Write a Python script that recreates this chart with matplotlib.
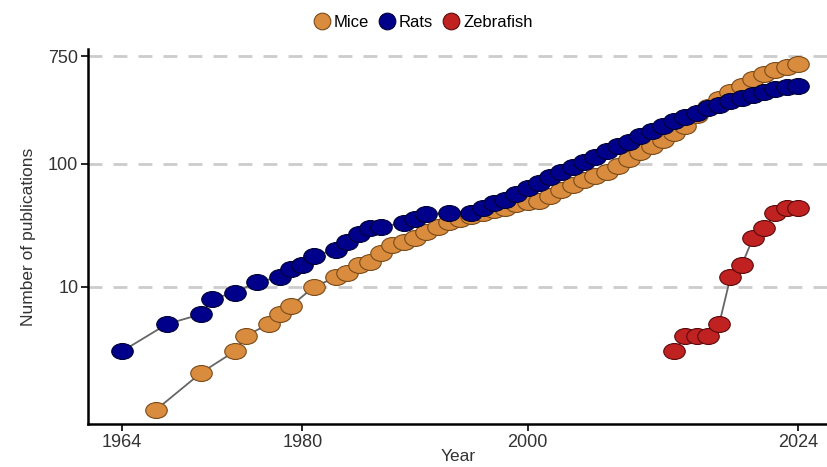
import numpy as np
import matplotlib
matplotlib.use("Agg")
import matplotlib.pyplot as plt
from matplotlib.path import Path
from matplotlib.lines import Line2D

plt.rcParams['font.family'] = ['Liberation Sans', 'DejaVu Sans']

# data
mice_years = [1967, 1971, 1974, 1975, 1977, 1978, 1979, 1981, 1983, 1984,
              1985, 1986, 1987, 1988, 1989, 1990, 1991, 1992, 1993, 1994,
              1995, 1996, 1997, 1998, 1999, 2000, 2001, 2002, 2003, 2004,
              2005, 2006, 2007, 2008, 2009, 2010, 2011, 2012, 2013, 2014,
              2015, 2016, 2017, 2018, 2019, 2020, 2021, 2022, 2023, 2024]
mice_pubs = [1, 2, 3, 4, 5, 6, 7, 10, 12, 13,
             15, 16, 19, 22, 23, 25, 28, 31, 34, 36,
             38, 40, 42, 44, 47, 49, 50, 55, 61, 67,
             74, 80, 86, 96, 110, 125, 140, 158, 178, 205,
             250, 290, 335, 383, 428, 489, 536, 578, 620, 645]

rats_years = [1964, 1968, 1971, 1972, 1974, 1976, 1978, 1979, 1980, 1981,
              1983, 1984, 1985, 1986, 1987, 1989, 1990, 1991, 1993, 1995,
              1996, 1997, 1998, 1999, 2000, 2001, 2002, 2003, 2004, 2005,
              2006, 2007, 2008, 2009, 2010, 2011, 2012, 2013, 2014, 2015,
              2016, 2017, 2018, 2019, 2020, 2021, 2022, 2023, 2024]
rats_pubs = [3, 5, 6, 8, 9, 11, 12, 14, 15, 18,
             20, 23, 27, 30, 31, 33, 36, 39, 40, 40,
             44, 48, 51, 57, 64, 70, 78, 86, 95, 104,
             115, 127, 140, 152, 168, 185, 205, 225, 240, 262,
             283, 303, 325, 345, 365, 385, 405, 420, 428]

zebra_years = [2013, 2014, 2015, 2016, 2017, 2018, 2019, 2020, 2021, 2022, 2023, 2024]
zebra_pubs = [3, 4, 4, 4, 5, 12, 15, 25, 30, 40, 44, 44]

series = [("Mice", mice_years, mice_pubs, "#D98C3D", "#7A4A1A"),
          ("Rats", rats_years, rats_pubs, "#00008B", "#000033"),
          ("Zebrafish", zebra_years, zebra_pubs, "#C02222", "#5A0A0A")]

# the source image is a bit stretched sideways, so points are slightly oval
circ = Path.unit_circle()
oval = Path(circ.vertices * np.array([1.35, 1.0]), circ.codes)

fig = plt.figure(figsize=(8.28, 4.67), dpi=100)
ax = fig.add_axes([0.1063, 0.0921, 0.8937, 0.803])

for name, x, y, fc, ec in series:
    ax.plot(x, y, color="#666666", lw=1.3, zorder=2)
for name, x, y, fc, ec in series:
    ax.plot(x, y, ls="none", marker=oval, ms=15.5, mfc=fc, mec=ec, mew=0.8, zorder=3)

ax.set_yscale("log")
ax.set_ylim(0.769, 861)
ax.set_xlim(1960.98, 2026.66)
ax.set_yticks([10, 100, 750])
ax.set_yticklabels(["10", "100", "750"])
ax.minorticks_off()
ax.set_xticks([1964, 1980, 2000, 2024])
for v in [10, 100, 750]:
    ax.axhline(v, color="#CCCCCC", lw=2, ls=(0, (5, 4)), zorder=1)

for s in ["top", "right"]:
    ax.spines[s].set_visible(False)
for s in ["left", "bottom"]:
    ax.spines[s].set_linewidth(1.8)
ax.tick_params(axis="both", length=5, width=1.2, labelsize=13, color="black",
               labelcolor="#333333", pad=2)

ax.set_xlabel("Year", fontsize=12.5, color="#333333", labelpad=-1)
ax.set_ylabel("Number of publications", fontsize=12.5, color="#333333", labelpad=9)

handles = [Line2D([], [], ls="none", marker="o", ms=12, mfc=fc, mec=ec, mew=0.8)
           for name, x, y, fc, ec in series]
fig.legend(handles, [s[0] for s in series], loc="upper center", ncol=3,
           bbox_to_anchor=(0.51, 1.0), frameon=False, fontsize=12,
           handletextpad=0.1, columnspacing=0.5, handlelength=1.2)

fig.savefig("out.png", dpi=100)
